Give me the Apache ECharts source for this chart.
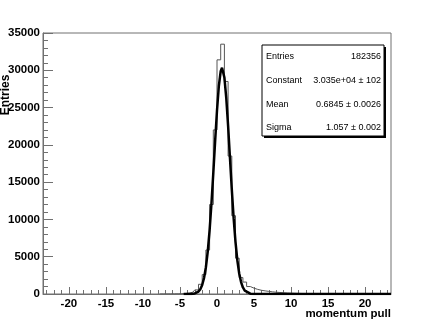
<!DOCTYPE html>
<html>
<head>
<meta charset="utf-8">
<script src="https://cdn.jsdelivr.net/npm/echarts@6/dist/echarts.min.js"></script>
<style>
  html, body { margin: 0; padding: 0; background: #fff; }
  #chart { width: 436px; height: 327px; }
</style>
</head>
<body>
<div id="chart"></div>
<script>
// momentum pull histogram, bins 0.5 wide (centres)
const binCenters = [
  -7.75, -7.25, -6.75, -6.25, -5.75, -5.25, -4.75, -4.25, -3.75, -3.25,
  -2.75, -2.25, -1.75, -1.25, -0.75, -0.25, 0.25, 0.75, 1.25, 1.75,
  2.25, 2.75, 3.25, 3.75, 4.25, 4.75, 5.25, 5.75, 6.25, 6.75,
  7.25, 7.75, 8.25, 8.75, 9.25, 9.75, 10.25, 10.75, 11.25, 11.75,
  12.25, 12.75, 13.25, 13.75, 14.25, 14.75, 15.25, 15.75
]
const binCounts = [
  0, 5, 8, 12, 18, 25, 40, 70, 120, 250,
  550, 1300, 2600, 5900, 12000, 22000, 31400, 33500, 28500, 18500,
  10500, 4800, 2200, 1600, 1000, 780, 620, 500, 420, 350,
  290, 240, 200, 170, 140, 115, 95, 80, 65, 55,
  45, 38, 32, 27, 22, 18, 14, 0
]

// gaussian fit curve
const fitX = [
  -4.5, -4, -3.5, -3, -2.75, -2.5, -2.25, -2, -1.75, -1.5, -1.25, -1, -0.75, -0.5, -0.25,
  0, 0.25, 0.5, 0.68, 0.75, 1, 1.25, 1.5, 1.75, 2, 2.25, 2.5, 2.75, 3, 3.25, 3.5, 3.75,
  4, 4.5, 5, 6, 23.5
]
const fitY = [
  0, 2, 12, 70, 155, 324, 644, 1205, 2142, 3587, 5690, 8531, 12107, 16213, 20535,
  24608, 27892, 29891, 30350, 30291, 29027, 26304, 22538, 18262, 13988, 10137, 6945, 4499, 2755, 1597, 875, 453,
  222, 45, 7, 0, 0
]

const xTickValues = [-20, -15, -10, -5, 0, 5, 10, 15, 20]
const xMinorValues = []
for (let i = -23; i <= 23; i += 1) xMinorValues.push(i)

const statsRows = [
  ['Entries', '182356'],
  ['Constant', '3.035e+04 \u00b1 102'],
  ['Mean', '0.6845 \u00b1 0.0026'],
  ['Sigma', '1.057 \u00b1 0.002'],
]

const FONT = '"Liberation Sans", Arial, sans-serif'
const AXIS_GREY = '#707070'

const chart = echarts.init(document.getElementById('chart'), null, { renderer: 'canvas' })

const statsGraphic = [
  { type: 'rect', shape: { x: 264, y: 47, width: 122, height: 91 }, style: { fill: '#000' }, z: 10 },
  { type: 'rect', shape: { x: 262, y: 45, width: 122, height: 91 }, style: { fill: '#fff', stroke: '#000', lineWidth: 1 }, z: 11 },
]
const rowY = [57, 81, 105, 128]
statsRows.forEach((row, i) => {
  statsGraphic.push({
    type: 'text', z: 12, x: 266, y: rowY[i],
    style: { text: row[0], font: '9px ' + FONT, fill: '#000', align: 'left', verticalAlign: 'middle' },
  })
  statsGraphic.push({
    type: 'text', z: 12, x: 381, y: rowY[i],
    style: { text: row[1], font: '9px ' + FONT, fill: '#000', align: 'right', verticalAlign: 'middle' },
  })
})

const option = {
  animation: false,
  backgroundColor: '#fff',
  grid: {
    left: 43, right: 45, top: 33, bottom: 33,
    show: true, borderColor: AXIS_GREY, borderWidth: 1, backgroundColor: 'transparent',
  },
  xAxis: [
    {
      type: 'value', min: -23.5, max: 23.5,
      axisLine: { onZero: false, lineStyle: { color: AXIS_GREY, width: 1 } },
      axisTick: { inside: true, length: 7, customValues: xTickValues, lineStyle: { color: AXIS_GREY } },
      axisLabel: {
        customValues: xTickValues, margin: 4, color: '#000',
        fontFamily: 'Liberation Sans', fontWeight: 'bold', fontSize: 11.5,
        formatter: v => String(v),
      },
      splitLine: { show: false },
    },
    {
      type: 'value', min: -23.5, max: 23.5, position: 'bottom',
      axisLine: { show: false, onZero: false },
      axisTick: { inside: true, length: 4, customValues: xMinorValues, lineStyle: { color: AXIS_GREY } },
      axisLabel: { show: false },
      splitLine: { show: false },
    },
  ],
  yAxis: {
    type: 'value', min: 0, max: 35000, interval: 5000,
    axisLine: { show: true, onZero: false, lineStyle: { color: AXIS_GREY, width: 1 } },
    axisTick: { show: true, inside: true, length: 10, lineStyle: { color: AXIS_GREY } },
    minorTick: { show: true, splitNumber: 5, length: 5, lineStyle: { color: AXIS_GREY } },
    axisLabel: {
      margin: 3, color: '#000',
      fontFamily: 'Liberation Sans', fontWeight: 'bold', fontSize: 11.5,
      formatter: v => String(v),
    },
    splitLine: { show: false },
  },
  graphic: [
    {
      type: 'text', x: 6, y: 95, rotation: Math.PI / 2,
      style: { text: 'Entries', font: 'bold 12px ' + FONT, fill: '#000', align: 'center', verticalAlign: 'middle' },
    },
    {
      type: 'text', x: 391, y: 314,
      style: { text: 'momentum pull', font: 'bold 11.5px ' + FONT, fill: '#000', align: 'right', verticalAlign: 'middle' },
    },
    ...statsGraphic,
  ],
  series: [
    {
      name: 'momentum pull',
      type: 'line', xAxisIndex: 0, step: 'middle', symbol: 'none',
      lineStyle: { color: '#555', width: 1 },
      data: binCenters.map((c, i) => [c, binCounts[i]]),
      z: 2,
    },
    {
      name: 'gaus',
      type: 'line', xAxisIndex: 0, symbol: 'none', smooth: false,
      lineStyle: { color: '#000', width: 2.5 },
      data: fitX.map((x, i) => [x, fitY[i]]),
      z: 3,
    },
  ],
}

chart.setOption(option)
</script>
</body>
</html>
